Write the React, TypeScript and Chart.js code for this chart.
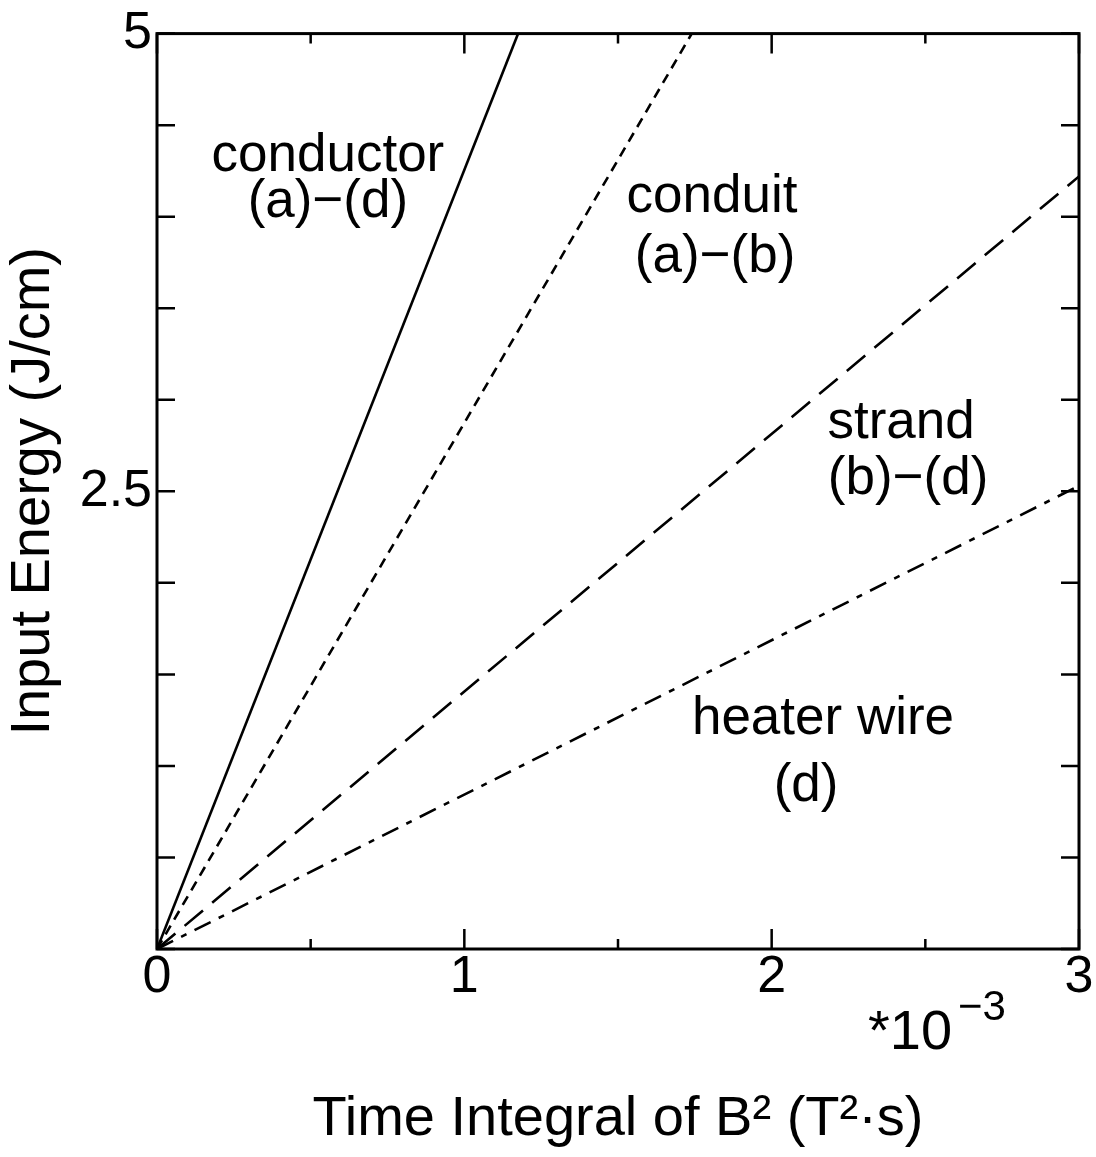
import React, { useEffect, useRef } from "react";
import { Chart, registerables } from "chart.js";

Chart.register(...registerables);

// x values in units of 10^-3 T^2·s, y values in J/cm
const conductorX = [0, 1.175];
const conductorY = [0, 5];
const conduitX = [0, 1.74];
const conduitY = [0, 5];
const strandX = [0, 3];
const strandY = [0, 4.22];
const heaterX = [0, 3];
const heaterY = [0, 2.53];

const xLabeledTicks = [0, 1, 2, 3];
const yLabeledTicks = [2.5, 5];

const annotationTexts = [
  "conductor", "(a)−(d)",
  "conduit", "(a)−(b)",
  "strand", "(b)−(d)",
  "heater wire", "(d)",
];
// anchor (data coords): centre x, baseline y
const annotationX = [0.556, 0.556, 1.806, 1.816, 2.421, 2.444, 2.167, 2.112];
const annotationY = [4.25, 4.0, 4.027, 3.7, 2.793, 2.484, 1.174, 0.81];

const FONT = "'Liberation Sans', Arial, Helvetica, sans-serif";

const toPoints = (xs: number[], ys: number[]) => xs.map((x, i) => ({ x, y: ys[i] }));

const framePlugin = {
  id: "framePlugin",
  afterDatasetsDraw(chart: any) {
    const { ctx, chartArea: a, scales } = chart;
    const x = scales.x;
    const y = scales.y;
    ctx.save();
    ctx.strokeStyle = "#000";
    ctx.lineWidth = 2.5;
    x.ticks.forEach((t: any) => {
      const px = x.getPixelForValue(t.value);
      const len = xLabeledTicks.includes(t.value) ? 20 : 10;
      ctx.beginPath();
      ctx.moveTo(px, a.bottom);
      ctx.lineTo(px, a.bottom - len);
      ctx.moveTo(px, a.top);
      ctx.lineTo(px, a.top + len);
      ctx.stroke();
    });
    y.ticks.forEach((t: any) => {
      const py = y.getPixelForValue(t.value);
      const len = 18;
      ctx.beginPath();
      ctx.moveTo(a.left, py);
      ctx.lineTo(a.left + len, py);
      ctx.moveTo(a.right, py);
      ctx.lineTo(a.right - len, py);
      ctx.stroke();
    });
    ctx.lineWidth = 3;
    ctx.strokeRect(a.left, a.top, a.right - a.left, a.bottom - a.top);
    ctx.restore();
  },
  afterDraw(chart: any) {
    const { ctx, scales } = chart;
    const x = scales.x;
    const y = scales.y;
    ctx.save();
    ctx.fillStyle = "#000";
    ctx.textAlign = "center";
    ctx.textBaseline = "alphabetic";
    ctx.font = `53px ${FONT}`;
    annotationTexts.forEach((txt, i) => {
      ctx.fillText(txt, x.getPixelForValue(annotationX[i]), y.getPixelForValue(annotationY[i]));
    });
    // exponent note
    ctx.textAlign = "left";
    ctx.font = `56px ${FONT}`;
    ctx.fillText("*10", 868, 1049);
    ctx.font = `42px ${FONT}`;
    ctx.fillText("−3", 958, 1020);
    ctx.restore();
  },
};

export default function App() {
  const canvasRef = useRef<HTMLCanvasElement | null>(null);

  useEffect(() => {
    const canvas = canvasRef.current;
    if (!canvas) return;
    const common = {
      borderColor: "#000",
      borderWidth: 2.6,
      pointRadius: 0,
      showLine: true,
      fill: false,
      tension: 0,
    };
    const chart = new Chart(canvas, {
      type: "scatter",
      data: {
        datasets: [
          { ...common, label: "conductor (a)−(d)", data: toPoints(conductorX, conductorY) },
          { ...common, label: "conduit (a)−(b)", data: toPoints(conduitX, conduitY), borderDash: [10, 7] },
          { ...common, label: "strand (b)−(d)", data: toPoints(strandX, strandY), borderDash: [24, 12] },
          { ...common, label: "heater wire (d)", data: toPoints(heaterX, heaterY), borderDash: [18, 9, 6, 9] },
        ],
      },
      options: {
        responsive: false,
        animation: false,
        devicePixelRatio: 1,
        layout: { padding: { top: 29, right: 17, left: 0, bottom: 0 } },
        plugins: {
          legend: { display: false },
          tooltip: { enabled: false },
        },
        scales: {
          x: {
            type: "linear",
            min: 0,
            max: 3,
            grid: { display: false, drawTicks: false },
            border: { display: false },
            ticks: {
              stepSize: 0.5,
              autoSkip: false,
              maxRotation: 0,
              padding: 0,
              color: "#000",
              font: { family: FONT, size: 52, lineHeight: 1.1 },
              callback: (v: any) => (xLabeledTicks.includes(Number(v)) ? String(v) : ""),
            },
            title: {
              display: true,
              text: "Time Integral of B² (T²·s)",
              color: "#000",
              font: { family: FONT, size: 56 },
              padding: { top: 0, bottom: 4 },
            },
            afterFit: (s: any) => {
              s.height = 208;
            },
          },
          y: {
            type: "linear",
            min: 0,
            max: 5,
            grid: { display: false, drawTicks: false },
            border: { display: false },
            ticks: {
              stepSize: 0.5,
              autoSkip: false,
              padding: 5,
              color: "#000",
              font: { family: FONT, size: 52, lineHeight: 1.1 },
              callback: (v: any) => (yLabeledTicks.includes(Number(v)) ? String(v) : ""),
            },
            title: {
              display: true,
              text: "Input Energy (J/cm)",
              color: "#000",
              font: { family: FONT, size: 56 },
              padding: { top: 0, bottom: 0 },
            },
            afterFit: (s: any) => {
              s.width = 157;
            },
          },
        },
      },
      plugins: [framePlugin],
    } as any);
    return () => chart.destroy();
  }, []);

  return (
    <div style={{ position: "absolute", left: 0, top: 0, width: 1096, height: 1157, background: "#fff" }}>
      <canvas ref={canvasRef} width={1096} height={1157} style={{ display: "block" }} />
    </div>
  );
}
